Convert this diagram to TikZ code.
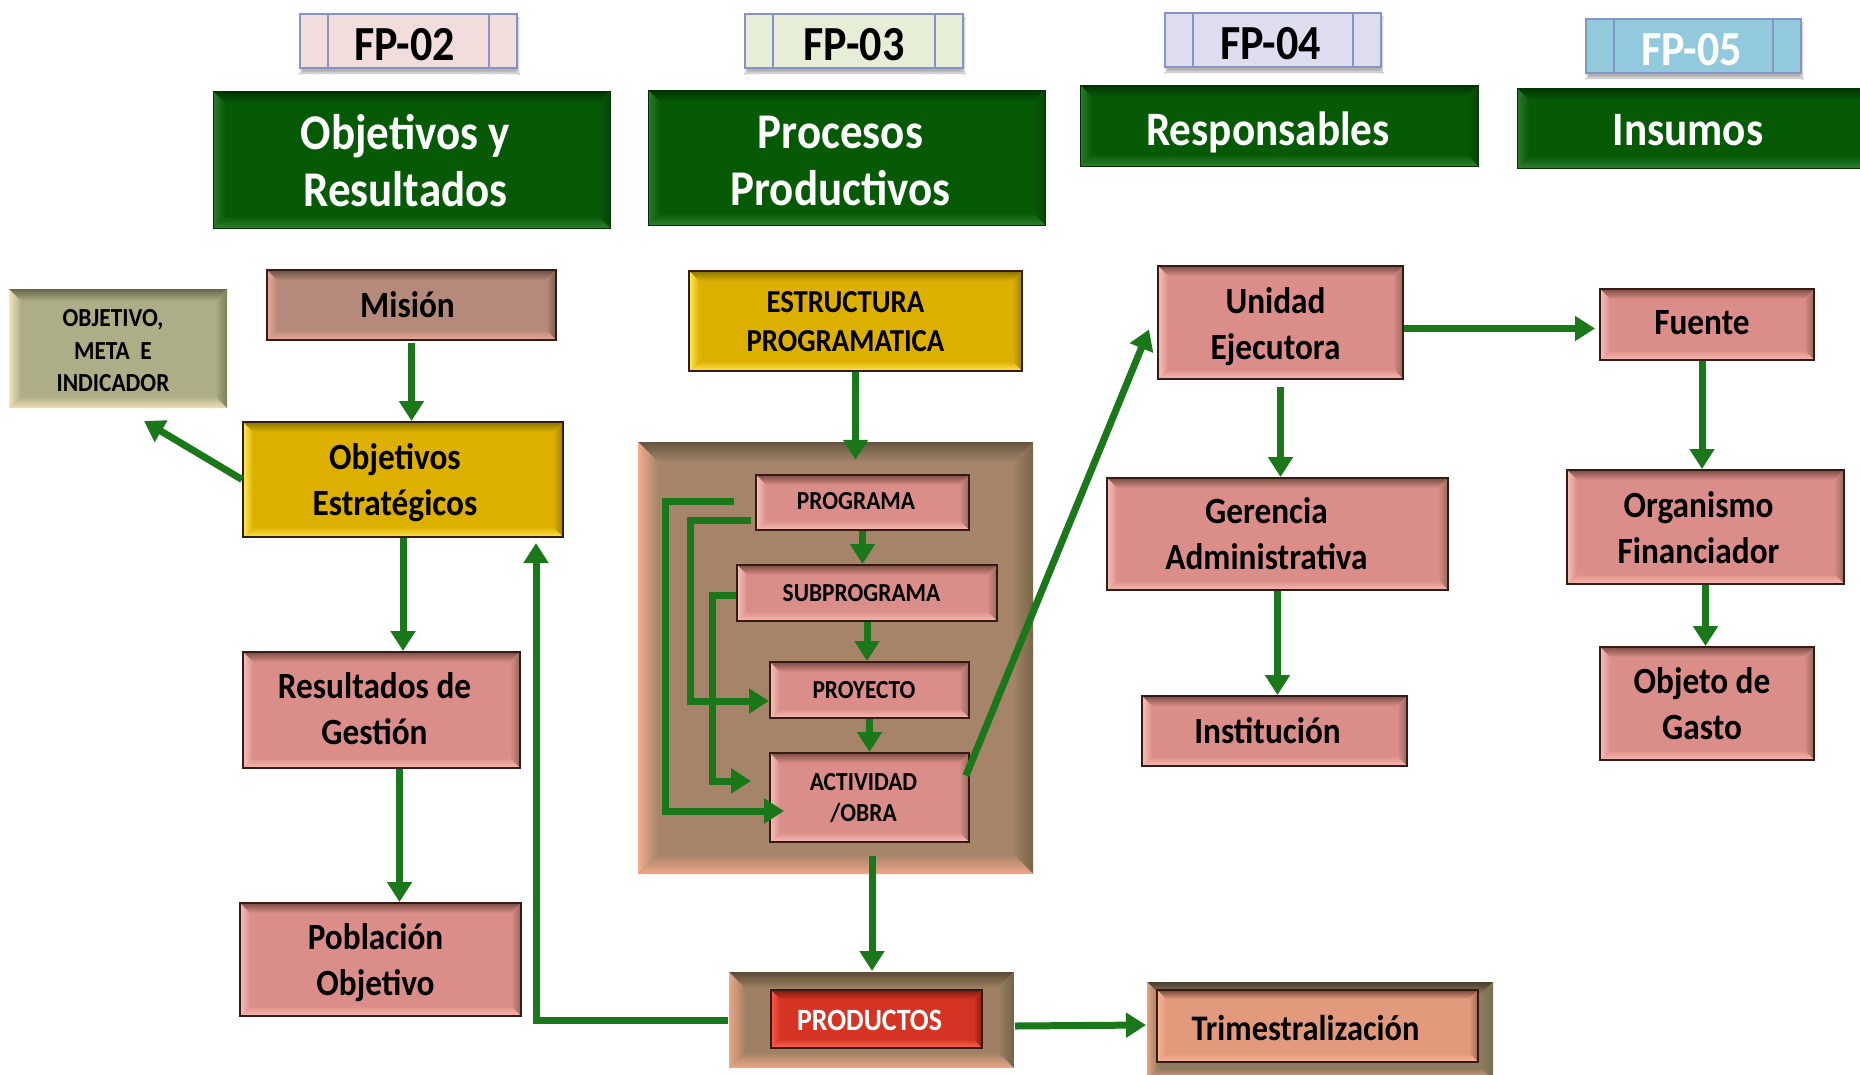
\documentclass[tikz,border=0pt]{standalone}
\usepackage{fontspec}
\setmainfont{Carlito}[FakeStretch=0.9]
\usetikzlibrary{arrows.meta,shadows.blur}

\definecolor{bdr}{HTML}{351A16}
\definecolor{arrc}{HTML}{1A781A}
\definecolor{fpb}{HTML}{8594C4}
\definecolor{fpa}{HTML}{F2DDDD}
\definecolor{fpc}{HTML}{E7EED8}
\definecolor{fpd}{HTML}{DEDDF0}
\definecolor{fpe}{HTML}{93C9DD}
% pink
\definecolor{pk}{HTML}{DB8D89}
\definecolor{pkT}{HTML}{7A4E44}
\definecolor{pkR}{HTML}{946858}
\definecolor{pkB}{HTML}{F7BAB2}
\definecolor{pkL}{HTML}{F5C0B8}
% yellow
\definecolor{ye}{HTML}{DDB000}
\definecolor{yeT}{HTML}{8A7400}
\definecolor{yeR}{HTML}{9A8200}
\definecolor{yeB}{HTML}{FFE34A}
\definecolor{yeL}{HTML}{FFEB5A}
% mision
\definecolor{mi}{HTML}{B58A7A}
\definecolor{miT}{HTML}{6A5044}
\definecolor{miR}{HTML}{7A5E50}
\definecolor{miB}{HTML}{F0A898}
\definecolor{miL}{HTML}{EDA898}
% olive
\definecolor{ol}{HTML}{ADAE88}
\definecolor{olT}{HTML}{66684A}
\definecolor{olR}{HTML}{7C7E58}
\definecolor{olB}{HTML}{F3DDB0}
\definecolor{olL}{HTML}{F5E3B8}
% green header
\definecolor{gr}{HTML}{065A06}
\definecolor{grT}{HTML}{023202}
\definecolor{grR}{HTML}{0A440A}
\definecolor{grB}{HTML}{2E7E2E}
\definecolor{grL}{HTML}{2E782E}
% container
\definecolor{ct}{HTML}{A5846A}
\definecolor{ctT}{HTML}{665540}
\definecolor{ctR}{HTML}{756645}
\definecolor{ctB}{HTML}{F0A888}
\definecolor{ctL}{HTML}{F4AC8C}
% productos outer
\definecolor{po}{HTML}{A08062}
\definecolor{poT}{HTML}{5A4A36}
\definecolor{poR}{HTML}{6E6448}
\definecolor{poB}{HTML}{EAA888}
\definecolor{poL}{HTML}{EAA888}
% red
\definecolor{rd}{HTML}{D53323}
\definecolor{rdT}{HTML}{7A1A10}
\definecolor{rdR}{HTML}{8A2015}
\definecolor{rdB}{HTML}{FF6A55}
\definecolor{rdL}{HTML}{FF5A48}
% trim outer
\definecolor{to}{HTML}{8E7B60}
\definecolor{toT}{HTML}{4A3E2E}
\definecolor{toR}{HTML}{76704F}
\definecolor{toB}{HTML}{EAA27E}
\definecolor{toL}{HTML}{EAA27E}
% trim inner
\definecolor{ti}{HTML}{E39A7C}
\definecolor{tiT}{HTML}{704838}
\definecolor{tiR}{HTML}{9A6A55}
\definecolor{tiB}{HTML}{F7B296}
\definecolor{tiL}{HTML}{F5B296}

\newcommand\bfz[2]{\fontsize{#1}{#2}\selectfont\bfseries}
% text block: [vertical shift]{right padding (shifts text left by half)}{lines}
\newcommand\tx[3][-3pt]{\raisebox{#1}[\height][\depth]{\begin{tabular}{@{}c@{\hspace{#2}}}#3\end{tabular}}}
\newcommand\bvshade[6]{%
  \shade[top color=#2,bottom color=#1] (bvNW) -- (bvNE) -- ([xshift=-#6,yshift=-#6]bvNE) -- ([xshift=#6,yshift=-#6]bvNW) -- cycle;
  \shade[left color=#1,right color=#3] (bvNE) -- (bvSE) -- ([xshift=-#6,yshift=#6]bvSE) -- ([xshift=-#6,yshift=-#6]bvNE) -- cycle;
  \shade[top color=#1,bottom color=#4] (bvSE) -- (bvSW) -- ([xshift=#6,yshift=#6]bvSW) -- ([xshift=-#6,yshift=#6]bvSE) -- cycle;
  \shade[left color=#5,right color=#1] (bvSW) -- (bvNW) -- ([xshift=#6,yshift=-#6]bvNW) -- ([xshift=#6,yshift=#6]bvSW) -- cycle;
}

\tikzset{
  bevel/.style n args={6}{fill=#1, path picture={
     \coordinate (bvNW) at (path picture bounding box.north west);
     \coordinate (bvNE) at (path picture bounding box.north east);
     \coordinate (bvSE) at (path picture bounding box.south east);
     \coordinate (bvSW) at (path picture bounding box.south west);
     \bvshade{#1}{#2}{#3}{#4}{#5}{#6}}},
  box/.style={draw=bdr, line width=2pt, inner sep=0pt, align=center, text=black, font=\bfz{37}{46}},
  pinkbox/.style={box, bevel={pk}{pkT}{pkR}{pkB}{pkL}{10pt}},
  yelbox/.style={box, bevel={ye}{yeT}{yeR}{yeB}{yeL}{10pt}},
  misbox/.style={box, bevel={mi}{miT}{miR}{miB}{miL}{10pt}},
  olbox/.style={box, draw=none, bevel={ol}{olT}{olR}{olB}{olL}{12pt}, font=\bfz{26}{32.5}},
  header/.style={inner sep=0pt, align=center, text=white, draw=grT, line width=1pt,
     bevel={gr}{grT}{grR}{grB}{grL}{12pt}},
  ctbox/.style={draw=none, bevel={ct}{ctT}{ctR}{ctB}{ctL}{20pt}},
  smallbox/.style={pinkbox, font=\bfz{26}{31}},
  fptab/.style={draw=fpb, line width=1.5pt, inner sep=0pt, font=\bfz{49}{52},
     blur shadow={shadow xshift=1pt, shadow yshift=-5pt, shadow opacity=30, shadow blur steps=6},
     path picture={
       \draw[fpb, line width=1.5pt] ([xshift=28pt]path picture bounding box.north west) -- ([xshift=28pt]path picture bounding box.south west);
       \draw[fpb, line width=1.5pt] ([xshift=-28pt]path picture bounding box.north east) -- ([xshift=-28pt]path picture bounding box.south east);}},
  arr/.style={draw=arrc, line width=7pt, -{Triangle[width=24pt,length=20pt]}}
}

\begin{document}
\begin{tikzpicture}[x=1pt,y=-1pt]
\useasboundingbox (0,0) rectangle (1860,1074);
\fill[white] (0,0) rectangle (1860,1074);
\clip (0,0) rectangle (1860,1074);

% ---- FP tabs
\node[fptab, fill=fpa, minimum width=217pt, minimum height=54pt] (fp2) at (408.5,41) {\tx[-9pt]{8pt}{FP-02}};
\node[fptab, fill=fpc, minimum width=218pt, minimum height=54pt] (fp3) at (854,41) {\tx[-9pt]{0pt}{FP-03}};
\node[fptab, fill=fpd, minimum width=216pt, minimum height=54pt] (fp4) at (1273,40) {\tx[-9pt]{5pt}{FP-04}};
\node[fptab, fill=fpe, text=white, minimum width=215pt, minimum height=54pt] (fp5) at (1693.5,46) {\tx[-9pt]{4pt}{FP-05}};

% ---- green headers
\node[header, font=\bfz{50}{57}, minimum width=397pt, minimum height=137pt] (h1) at (411.5,159.5) {\tx[-7pt]{12pt}{Objetivos y\\Resultados}};
\node[header, font=\bfz{50}{57}, minimum width=397pt, minimum height=135pt] (h2) at (846.5,157.5) {\tx[-8pt]{12pt}{Procesos\\Productivos}};
\node[header, font=\bfz{48}{54}, minimum width=398pt, minimum height=81pt] (h3) at (1279,125.5) {\tx[-9pt]{22pt}{Responsables}};
\node[header, font=\bfz{48}{54}, minimum width=365pt, minimum height=80pt] (h4) at (1699.5,128) {\tx[-6.5pt]{23pt}{Insumos}};

% ---- left column
\node[olbox, minimum width=218pt, minimum height=119pt] (obj) at (118,348.5) {\tx[-4pt]{10pt}{OBJETIVO,\\META\ \ E\\INDICADOR}};
\node[misbox, minimum width=289pt, minimum height=70pt] (mis) at (411.5,305) {\tx{8pt}{Misión}};
\node[yelbox, minimum width=320pt, minimum height=115pt] (oe) at (403,479.5) {\tx[-3.5pt]{16pt}{Objetivos\\Estratégicos}};
\node[pinkbox, minimum width=277pt, minimum height=116pt] (res) at (381.5,710) {\tx[-2.5pt]{14pt}{Resultados de\\Gestión}};
\node[pinkbox, minimum width=281pt, minimum height=113pt] (pob) at (380.5,959.5) {\tx[-4pt]{10pt}{Población\\Objetivo}};

% ---- middle column
\node[yelbox, font=\bfz{32}{39}, minimum width=333pt, minimum height=100pt] (est) at (855.5,321) {\tx{20pt}{ESTRUCTURA\\PROGRAMATICA}};
\node[ctbox, minimum width=395pt, minimum height=432pt] (cont) at (835.5,658) {};
\node[smallbox, minimum width=213pt, minimum height=55pt] (prog) at (862.5,502.5) {\tx[-1pt]{13pt}{PROGRAMA}};
\node[smallbox, minimum width=260pt, minimum height=56pt] (sub) at (867,593) {\tx[-2.5pt]{11pt}{SUBPROGRAMA}};
\node[smallbox, minimum width=199pt, minimum height=56pt] (proy) at (869.5,690) {\tx[-2.5pt]{11pt}{PROYECTO}};
\node[smallbox, minimum width=199pt, minimum height=89pt] (act) at (869.5,797.5) {\tx[-2.5pt]{12pt}{ACTIVIDAD\\/OBRA}};
\node[box, draw=none, bevel={po}{poT}{poR}{poB}{poL}{16pt}, minimum width=285pt, minimum height=96pt] (prodo) at (871.5,1020) {};
\node[box, bevel={rd}{rdT}{rdR}{rdB}{rdL}{9pt}, text=white, font=\bfz{31}{36}, minimum width=211pt, minimum height=58pt] (prod) at (876.5,1019) {\tx[-4pt]{14pt}{PRODUCTOS}};
\node[box, draw=none, bevel={to}{toT}{toR}{toB}{toL}{12pt}, minimum width=346pt, minimum height=98pt] (trio) at (1320,1031) {};
\node[box, bevel={ti}{tiT}{tiR}{tiB}{tiL}{9pt}, font=\bfz{36}{42}, minimum width=321pt, minimum height=72pt] (tri) at (1317.5,1026) {\tx[-6pt]{24pt}{Trimestralización}};

% ---- right columns
\node[pinkbox, minimum width=245pt, minimum height=113pt] (ue) at (1280.5,322.5) {\tx[-4.5pt]{10pt}{Unidad\\Ejecutora}};
\node[pinkbox, minimum width=341pt, minimum height=112pt] (ger) at (1277.5,534) {\tx{22pt}{Gerencia\\Administrativa}};
\node[pinkbox, minimum width=265pt, minimum height=70pt] (inst) at (1274.5,731) {\tx{14pt}{Institución}};
\node[pinkbox, minimum width=214pt, minimum height=71pt] (fue) at (1707,324.5) {\tx[-1pt]{10pt}{Fuente}};
\node[pinkbox, minimum width=277pt, minimum height=114pt] (org) at (1705.5,527) {\tx[-4pt]{14pt}{Organismo\\Financiador}};
\node[pinkbox, minimum width=214pt, minimum height=113pt] (oga) at (1707,703.5) {\tx[-4pt]{10pt}{Objeto de\\Gasto}};

% ---- helper coordinates
\coordinate (fb) at (536,1020);
\coordinate (b1) at (665,501);
\coordinate (b1b) at (665,811);
\coordinate (b2) at (690,520);
\coordinate (b2b) at (690,701);
\coordinate (b3) at (712,595);
\coordinate (b3b) at (712,781);

% ---- connectors
\draw[arr, shorten <=2pt] (mis.south) -- (mis.south |- oe.north);
\draw[arr] (oe.west) -- ([xshift=26pt,yshift=-12pt]obj.south);
\draw[arr] (oe.south) -- (oe.south |- res.north);
\draw[arr] ([xshift=18pt]res.south) -- ([xshift=18pt]res.south |- pob.north);

\draw[arr] (est.south) -- ([yshift=-18pt]est.south |- cont.north);
\draw[arr] (prog.south) -- (prog.south |- sub.north);
\draw[arr] (sub.south) -- (sub.south |- proy.north);
\draw[arr] (proy.south) -- (proy.south |- act.north);
\draw[arr, shorten <=13pt] ([xshift=2.5pt]act.south) -- ([xshift=2.5pt]act.south |- prodo.north);

\draw[arr] ([xshift=-21pt,yshift=1.5pt]prog.west) -- (b1) -- (b1b) -- ([xshift=15pt]b1b -| act.west);
\draw[arr] ([xshift=-4pt,yshift=-17.5pt]prog.west) -- (b2) -- (b2b) -- (b2b -| proy.west);
\draw[arr] ([yshift=-2pt]sub.west) -- (b3) -- (b3b) -- ([xshift=-18pt]b3b -| act.west);

\draw[arr] ([xshift=-4pt,yshift=22pt]act.east) -- ([xshift=-8pt,yshift=-7pt]ue.west);
\draw[arr, shorten >=4pt] ([yshift=-6pt]ue.east) -- ([yshift=-6pt]ue.east -| fue.west);
\draw[arr, shorten <=7pt] (ue.south) -- (ue.south |- ger.north);
\draw[arr] (ger.south) -- (ger.south |- inst.north);
\draw[arr] ([xshift=-5pt]fue.south) -- ([xshift=-5pt]fue.south |- org.north);
\draw[arr] (org.south) -- (org.south |- oga.north);

\draw[arr] ([yshift=-6pt]prodo.east) -- ([yshift=6pt]trio.west);
\draw[arr, shorten >=5pt] (prodo.west) -- (fb) -- (fb |- oe.south);
\end{tikzpicture}
\end{document}
